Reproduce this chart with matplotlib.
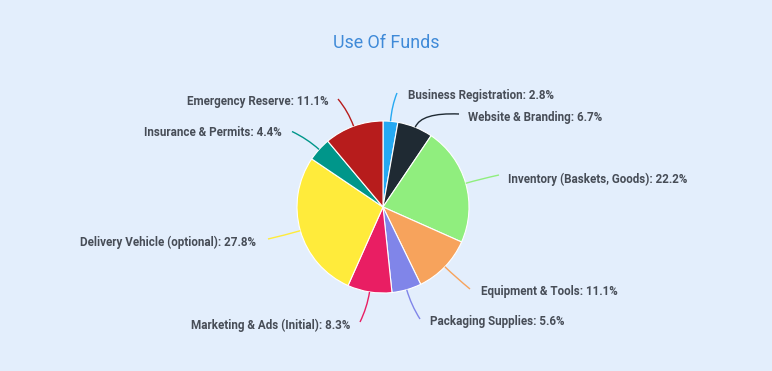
import numpy as np
import matplotlib
matplotlib.use("Agg")
import matplotlib.pyplot as plt
from matplotlib.path import Path
from matplotlib.patches import PathPatch

categories = ["Business Registration", "Website & Branding", "Inventory (Baskets, Goods)",
              "Equipment & Tools", "Packaging Supplies", "Marketing & Ads (Initial)",
              "Delivery Vehicle (optional)", "Insurance & Permits", "Emergency Reserve"]
values = [500, 1200, 4000, 2000, 1000, 1500, 5000, 800, 2000]
colors = ["#26a9f2", "#1f2a33", "#90ee7e", "#f7a35c", "#8085e9", "#e91e63",
          "#ffeb3b", "#00968a", "#b71c1c"]
title = "Use Of Funds"

W, H = 772, 371
# label line end points (pixel coords) and text side
label_ends = [(397, 93), (459, 114), (499, 175), (470, 289), (420, 319),
              (360, 322), (268, 239), (292, 131.5), (338, 99)]
text_anchor = [(407.5, 95), (467.5, 118), (508.5, 179), (481, 292), (430, 322),
               (350.5, 325), (256, 242.5), (282, 133), (328.5, 101.5)]
sides = ["left", "left", "left", "left", "left", "right", "right", "right", "right"]

bg = "#e3eefc"
fig = plt.figure(figsize=(W / 100, H / 100), dpi=100, facecolor=bg)
ax = fig.add_axes([0, 0, 1, 1])
ax.set_facecolor(bg)

cx, cy, R = 383, H - 207, 86
wedges, _ = ax.pie(values, colors=colors, startangle=90, counterclock=False,
                   center=(cx, cy), radius=R, frame=True,
                   wedgeprops=dict(edgecolor="white", linewidth=0.8))
ax.set_xlim(0, W)
ax.set_ylim(0, H)
ax.set_aspect("equal")
ax.axis("off")

total = sum(values)
for w, cat, v, col, end, ta, side in zip(wedges, categories, values, colors,
                                          label_ends, text_anchor, sides):
    mid = np.deg2rad((w.theta1 + w.theta2) / 2)
    sx, sy = cx + R * np.cos(mid), cy + R * np.sin(mid)
    L = R + 16
    kx, ky = cx + L * np.cos(mid), cy + L * np.sin(mid)
    ex, ey = end[0], H - end[1]
    path = Path([(sx, sy), (kx, ky), (ex, ey)], [Path.MOVETO, Path.CURVE3, Path.CURVE3])
    ax.add_patch(PathPatch(path, facecolor="none", edgecolor=col, lw=1.0))
    pct = 100 * v / total
    ax.text(ta[0], H - ta[1], f"{cat}: {pct:.1f}%", ha=side, va="center",
            fontsize=8.4, fontweight="bold", color="#474d57", family="Roboto")

ax.text(386, H - 43, title, ha="center", va="center", fontsize=12.9,
        color="#3f8ad8", family="Roboto")

fig.savefig("out.png", dpi=100, facecolor=bg)
